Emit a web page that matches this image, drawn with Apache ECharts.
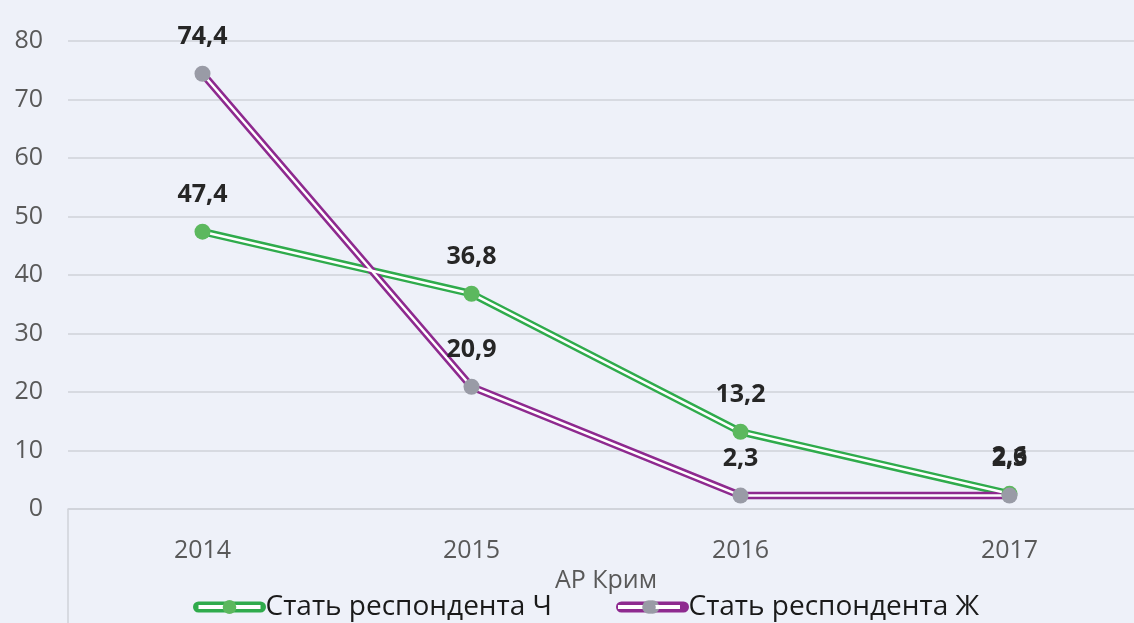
<!DOCTYPE html>
<html>
<head>
<meta charset="utf-8">
<script src="https://cdn.jsdelivr.net/npm/echarts@6/dist/echarts.min.js"></script>
<style>
  html, body { margin: 0; padding: 0; background: #eef1f9; overflow: hidden; }
  #chart { width: 1144px; height: 623px; }
</style>
</head>
<body>
<div id="chart"></div>
<script>
var years = ['2014', '2015', '2016', '2017'];
var male = [47.4, 36.8, 13.2, 2.6];
var female = [74.4, 20.9, 2.3, 2.3];
var yTicks = { min: 0, max: 80, interval: 10 };
var nameMale = 'Стать респондента Ч';
var nameFemale = 'Стать респондента Ж';

var green = '#2fab4c';
var greenDot = '#5cb85e';
var purple = '#8e2a8f';
var grayDot = '#999ba6';
var font = '"Open Sans", "Noto Sans", sans-serif';

// outer coloured stroke, a thin white stroke on top, then the markers
function outerLine(name, data, lineColor, dotColor) {
  return {
    name: name, type: 'line', data: data, z: 2,
    symbol: 'circle', symbolSize: 16, showSymbol: false,
    itemStyle: { color: dotColor },
    lineStyle: { color: lineColor, width: 7.5 },
    emphasis: { disabled: true }, silent: true
  };
}
function innerLine(data) {
  return {
    name: 'inner', type: 'line', data: data, z: 3,
    symbol: 'none', silent: true,
    lineStyle: { color: '#ffffff', width: 2.5 },
    emphasis: { disabled: true }
  };
}
function dots(data, dotColor, z) {
  return {
    name: 'dots', type: 'line', data: data, z: z,
    symbol: 'circle', symbolSize: 16,
    itemStyle: { color: dotColor },
    lineStyle: { opacity: 0 },
    emphasis: { disabled: true },
    label: {
      show: true, position: 'top', distance: 16,
      fontFamily: font, fontWeight: 'bold', fontSize: 25, color: '#262626',
      formatter: function (p) { return String(p.value).replace('.', ','); }
    }
  };
}

// two stacked legends give the double-line icon: coloured below, white + dot above.
// the wider stroke grows the legend's bounding box, so the top one is nudged right
var outerW = 11, innerW = 4, legendLeft = 193;
var legendBase = {
  top: 593, padding: 0,
  itemWidth: 62, itemHeight: 17, itemGap: 64,
  textStyle: { fontFamily: font, fontSize: 28, color: '#1a1a1a' }
};

var chart = echarts.init(document.getElementById('chart'));
chart.setOption({
  backgroundColor: '#eef1f9',
  animation: false,
  grid: { left: 68, top: 41, right: 0, bottom: 114, containLabel: false },
  legend: [
    Object.assign({}, legendBase, {
      left: legendLeft, z: 4,
      data: [
        { name: nameMale, lineStyle: { color: green, width: outerW, cap: 'round' }, itemStyle: { color: greenDot } },
        { name: nameFemale, lineStyle: { color: purple, width: outerW, cap: 'round' }, itemStyle: { color: grayDot } }
      ]
    }),
    Object.assign({}, legendBase, {
      left: legendLeft + (outerW - innerW) / 2, selectedMode: false, z: 5,
      textStyle: Object.assign({}, legendBase.textStyle, { color: 'rgba(0,0,0,0)' }),
      data: [
        { name: nameMale, lineStyle: { color: '#ffffff', width: innerW, cap: 'butt' }, itemStyle: { color: greenDot, borderWidth: 0 } },
        { name: nameFemale, lineStyle: { color: '#ffffff', width: innerW, cap: 'butt' }, itemStyle: { color: grayDot, borderWidth: 0 } }
      ]
    })
  ],
  xAxis: {
    type: 'category', data: years, boundaryGap: true,
    name: 'АР Крим', nameLocation: 'middle', nameGap: 50,
    nameTextStyle: { fontFamily: font, fontSize: 25, color: '#595959' },
    axisLine: { lineStyle: { color: '#cfd2d9', width: 1.5 } },
    axisTick: { show: false },
    axisLabel: { margin: 29, fontFamily: font, fontSize: 25, color: '#595959' }
  },
  yAxis: {
    type: 'value', min: yTicks.min, max: yTicks.max, interval: yTicks.interval,
    axisLine: { show: false }, axisTick: { show: false },
    axisLabel: { margin: 25, fontFamily: font, fontSize: 25, color: '#595959' },
    splitLine: { lineStyle: { color: '#cfd2d9', width: 1.5 } }
  },
  graphic: [{
    type: 'line', silent: true,
    shape: { x1: 68, y1: 509, x2: 68, y2: 623 },
    style: { stroke: '#cfd2d9', lineWidth: 1.5 }
  }],
  series: [
    outerLine(nameMale, male, green, greenDot),
    outerLine(nameFemale, female, purple, grayDot),
    innerLine(male),
    innerLine(female),
    dots(male, greenDot, 4),
    dots(female, grayDot, 5)
  ]
});
</script>
</body>
</html>
